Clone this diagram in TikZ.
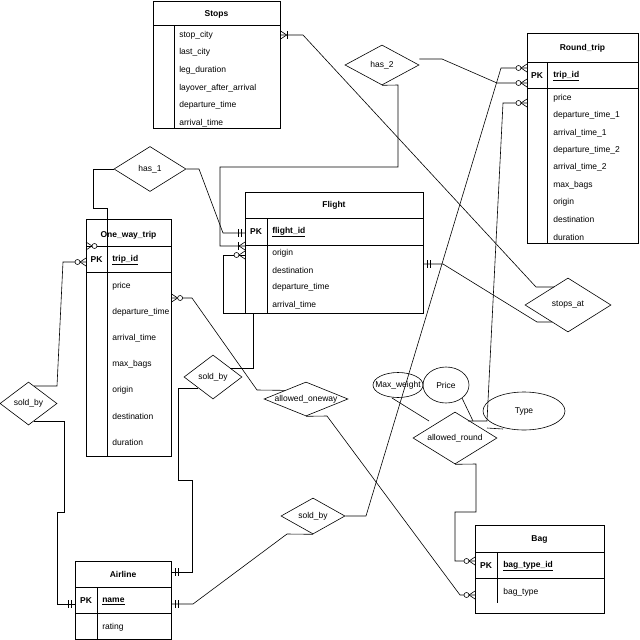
\documentclass[tikz,border=0pt]{standalone}
\usepackage{fontspec}
\setmainfont{Liberation Sans}
\usetikzlibrary{shapes.geometric}

\begin{document}
\begin{tikzpicture}[
    x=1pt, y=-1pt, line width=0.6pt,
    tblbox/.style={draw, anchor=north west, inner sep=0pt},
    ttl/.style={font=\fontsize{8.5}{10}\selectfont\bfseries, inner sep=0pt},
    pkey/.style={font=\fontsize{8.5}{10}\selectfont\bfseries, inner sep=0pt},
    fld/.style={font=\fontsize{8.5}{10}\selectfont, anchor=west, inner sep=0pt},
    rel/.style={draw, diamond, inner sep=0pt, font=\fontsize{8.5}{10}\selectfont},
    attr/.style={inner sep=0pt, font=\fontsize{8.5}{10}\selectfont},
    zmany/.pic={\draw (0,-4) -- (6,0) -- (0,4);
                \draw[fill=white] (8.5,0) circle (2.5);},
    omany/.pic={\draw (0,-4) -- (6,0) -- (0,4);
                \draw (7,-4) -- (7,4);},
    oneone/.pic={\draw (4,-4) -- (4,4);
                 \draw (7,-4) -- (7,4);},
]
\fill[white] (0,0) rectangle (640,640);
\useasboundingbox (0,0) rectangle (640,640);

% Stops
\node[tblbox, minimum width=127pt, minimum height=127pt] (stops) at (153,1) {};
\draw (stops.west |- 0,25) -- (stops.east |- 0,25);
\draw (174,25) -- (stops.south -| 174,0);
\node[ttl] (stops-t) at (216.5,14) {Stops};
\foreach \t [count=\i] in {stop\_city, last\_city, leg\_duration,
        layover\_after\_arrival, departure\_time, arrival\_time}
    \node[fld] (stops-\i) at (179,{35+17.6*(\i-1)}) {\t};

% Round_trip
\node[tblbox, minimum width=111pt, minimum height=210pt] (round) at (527,33) {};
\draw (round.west |- 0,62) -- (round.east |- 0,62);
\draw (round.west |- 0,88) -- (round.east |- 0,88);
\draw (547,62) -- (round.south -| 547,0);
\node[ttl] (round-t) at (582.5,48) {Round\_trip};
\node[pkey] (round-pk) at (537,76) {PK};
\node[fld, font=\fontsize{8.5}{10}\selectfont\bfseries] (round-id) at (553,76) {\underline{trip\_id}};
\foreach \t [count=\i] in {price, departure\_time\_1, arrival\_time\_1,
        departure\_time\_2, arrival\_time\_2, max\_bags, origin, destination, duration}
    \node[fld] (round-\i) at (553,{98+17.4*(\i-1)}) {\t};

% Flight
\node[tblbox, minimum width=178pt, minimum height=121pt] (flight) at (245,192) {};
\draw (flight.west |- 0,218) -- (flight.east |- 0,218);
\draw (flight.west |- 0,245) -- (flight.east |- 0,245);
\draw (267,218) -- (flight.south -| 267,0);
\node[ttl] (flight-t) at (334,205) {Flight};
\node[pkey] (flight-pk) at (256,232) {PK};
\node[fld, font=\fontsize{8.5}{10}\selectfont\bfseries] (flight-id) at (272,232) {\underline{flight\_id}};
\foreach \t [count=\i] in {origin, destination, departure\_time, arrival\_time}
    \node[fld] (flight-\i) at (272,{253+17.3*(\i-1)}) {\t};

% One_way_trip
\node[tblbox, minimum width=85pt, minimum height=237pt] (oneway) at (86,219) {};
\draw (oneway.west |- 0,246) -- (oneway.east |- 0,246);
\draw (oneway.west |- 0,272) -- (oneway.east |- 0,272);
\draw (107,246) -- (oneway.south -| 107,0);
\node[ttl] (oneway-t) at (128.5,235) {One\_way\_trip};
\node[pkey] (oneway-pk) at (96.5,260) {PK};
\node[fld, font=\fontsize{8.5}{10}\selectfont\bfseries] (oneway-id) at (112,260) {\underline{trip\_id}};
\foreach \t [count=\i] in {price, departure\_time, arrival\_time, max\_bags,
        origin, destination, duration}
    \node[fld] (oneway-\i) at (112,{286+26.1*(\i-1)}) {\t};

% Airline
\node[tblbox, minimum width=96pt, minimum height=78pt] (airline) at (75,561) {};
\draw (airline.west |- 0,587) -- (airline.east |- 0,587);
\draw (airline.west |- 0,613) -- (airline.east |- 0,613);
\draw (97,587) -- (airline.south -| 97,0);
\node[ttl] (airline-t) at (123,574) {Airline};
\node[pkey] (airline-pk) at (86,601) {PK};
\node[fld, font=\fontsize{8.5}{10}\selectfont\bfseries] (airline-id) at (102,601) {\underline{name}};
\node[fld] (airline-1) at (102,627) {rating};

% Bag
\node[tblbox, minimum width=129pt, minimum height=88pt] (bag) at (475,525) {};
\draw (bag.west |- 0,552) -- (bag.east |- 0,552);
\draw (bag.west |- 0,578) -- (bag.east |- 0,578);
\draw (497,552) -- (497,603);
\node[ttl] (bag-t) at (539.5,539) {Bag};
\node[pkey] (bag-pk) at (486,566) {PK};
\node[fld, font=\fontsize{8.5}{10}\selectfont\bfseries] (bag-id) at (503,566) {\underline{bag\_type\_id}};
\node[fld] (bag-1) at (503,592) {bag\_type};

% relationships
\node[rel, minimum width=72pt, minimum height=45pt, aspect=1.6]  (has1)    at (150,169)   {has\_1};
\node[rel, minimum width=74pt, minimum height=40pt, aspect=1.85] (has2)    at (382,65)    {has\_2};
\node[rel, minimum width=86pt, minimum height=54pt, aspect=1.6]  (stopsat) at (568,305)   {stops\_at};
\node[rel, minimum width=57pt, minimum height=43pt, aspect=1.33] (sold1)   at (28.5,403.5) {sold\_by};
\node[rel, minimum width=58pt, minimum height=44pt, aspect=1.32] (sold2)   at (213,377)   {sold\_by};
\node[rel, minimum width=64pt, minimum height=36pt, aspect=1.78] (sold3)   at (313,516)   {sold\_by};
\node[rel, minimum width=84pt, minimum height=34pt, aspect=2.47] (aone)    at (306,399)   {allowed\_oneway};
\node[rel, minimum width=84pt, minimum height=52pt, aspect=1.6]  (around)  at (455,438)   {allowed\_round};

% attributes
\node[attr] (maxw)  at (398,385) {Max\_weight};
\draw (maxw.center) ellipse [x radius=25, y radius=12.5];
\node[attr] (price) at (446,385) {Price};
\draw (price.center) ellipse [x radius=23, y radius=18];
\node[attr] (type)  at (524,411) {Type};
\draw (type.center) ellipse [x radius=41, y radius=19];

% free ends
\coordinate (sa-a) at (554,287);
\coordinate (sa-b) at (552,322);
\coordinate (s1-a) at (34,386);
\coordinate (s1-b) at (34,421);
\coordinate (s2-a) at (198,388);
\coordinate (s2-b) at (230,368);
\coordinate (ar-a) at (468,421);
\coordinate (mw-a) at (392,398);
\coordinate (mw-b) at (429,421);
\coordinate (pr-a) at (462,398);
\coordinate (pr-b) at (473,421);
\coordinate (ty-a) at (503,429);
\coordinate (ty-b) at (487,428);

% connectors
\draw (stops.east |- 0,35) -- (303,35) -- (536,287) -- (sa-a);
\draw (flight.east |- 0,264) -- (443,264) -- (537,322) -- (sa-b);
\draw (has1.east) -- (199,169) -- (223,233) -- (flight.west |- 0,233);
\draw (has1.west) -- (93,169) -- (93,208) -- (107,208) -- (107,246) -- (oneway.west |- 0,246);
\draw (has2.south) -- (398,85) -- (398,167) -- (220,167) -- (220,246) -- (flight.west |- 0,246);
\draw ([yshift=6pt]has2.east) -- (442,59) -- (497,83) -- (round.west |- 0,83);
\draw (sold3.east) -- (366,516) -- (501,68) -- (round.west |- 0,68);
\draw (airline.east |- 0,604) -- (193,604) -- (287,534) -- (sold3.south);
\draw (round.west |- 0,103) -- (503,103) -- (487,421) -- (ar-a);
\draw (around.south) -- (476,464) -- (476,512) -- (455,512) -- (455,561) -- (bag.west |- 0,561);
\draw (aone.south) -- (327,416) -- (460,595) -- (bag.west |- 0,595);
\draw (oneway.east |- 0,298) -- (192,298) -- (257,390) -- (aone.north west);
\draw (s1-a) -- (57,386) -- (63,262) -- (oneway.west |- 0,262);
\draw (s1-b) -- (64,421) -- (64,512) -- (57,512) -- (57,604) -- (airline.west |- 0,604);
\draw (s2-a) -- (178,388) -- (178,480) -- (192,480) -- (192,572) -- (airline.east |- 0,572);
\draw (s2-b) -- (253,368) -- (253,313) -- (223,313) -- (223,255) -- (flight.west |- 0,255);
\draw (mw-a) -- (mw-b);
\draw (pr-a) -- (pr-b);
\draw (ty-a) -- (ty-b);

% end marks
\pic at (stops.east |- 0,35) {omany};
\pic[xscale=-1] at (round.west |- 0,68) {zmany};
\pic[xscale=-1] at (round.west |- 0,83) {zmany};
\pic[xscale=-1] at (round.west |- 0,103) {zmany};
\pic[xscale=-1] at (flight.west |- 0,233) {oneone};
\pic[xscale=-1] at (flight.west |- 0,246) {omany};
\pic[xscale=-1] at (flight.west |- 0,255) {zmany};
\pic at (flight.east |- 0,264) {oneone};
\pic at (oneway.west |- 0,246) {zmany};
\pic[xscale=-1] at (oneway.west |- 0,262) {zmany};
\pic at (oneway.east |- 0,298) {zmany};
\pic[xscale=-1] at (airline.west |- 0,604) {oneone};
\pic at (airline.east |- 0,572) {oneone};
\pic at (airline.east |- 0,604) {oneone};
\pic[xscale=-1] at (bag.west |- 0,561) {zmany};
\pic[xscale=-1] at (bag.west |- 0,595) {zmany};
\end{tikzpicture}
\end{document}
